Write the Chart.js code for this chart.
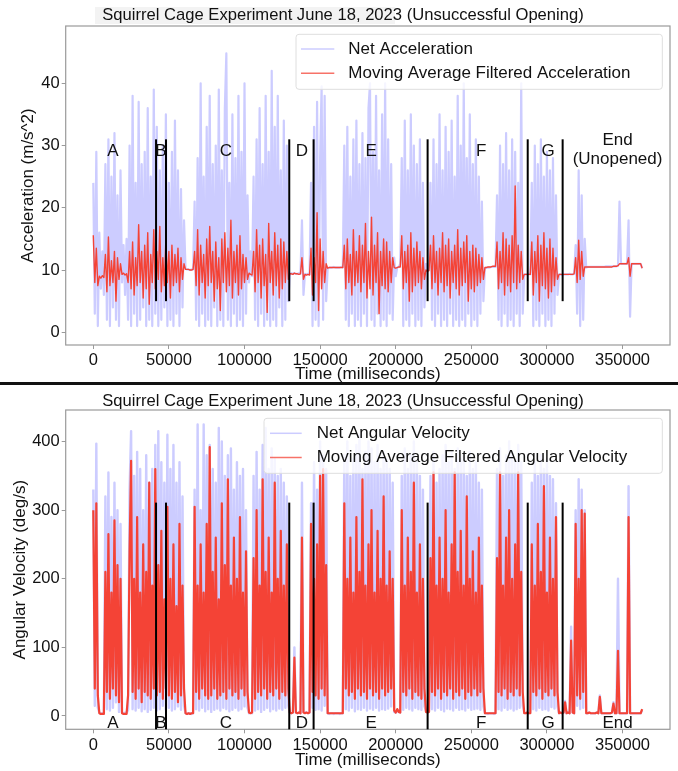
<!DOCTYPE html>
<html>
<head>
<meta charset="utf-8">
<title>Squirrel Cage Experiment June 18, 2023</title>
<script src="https://cdn.jsdelivr.net/npm/chart.js@4.4.0/dist/chart.umd.min.js"></script>
<style>
  html, body { margin: 0; padding: 0; background: #fff; }
  #wrap { position: relative; width: 678px; height: 771px; overflow: hidden; }
  canvas { position: absolute; left: 0; }
  #accChart { top: 0; }
  #gyroChart { top: 385px; }
  .rule { position: absolute; left: 0; top: 382px; width: 678px; height: 3px; background: #111; }
</style>
</head>
<body>
<div id="wrap">
  <canvas id="accChart" width="678" height="383" style="width:678px;height:383px"></canvas>
  <div class="rule"></div>
  <canvas id="gyroChart" width="678" height="386" style="width:678px;height:386px"></canvas>
</div>
<script>
// one sample per second of the recording
const SAMPLE_MS = 1000;

const timeTicks = [0, 50000, 100000, 150000, 200000, 250000, 300000, 350000];
const accTicks = [0, 10, 20, 30, 40];
const gyroTicks = [0, 100, 200, 300, 400];

// where the experiment phases change, and the phase names
const dividerTimes = [41500, 48100, 129600, 145700, 221100, 287300, 310400];
const segmentNames = ['A', 'B', 'C', 'D', 'E', 'F', 'G', 'End'];
const segmentTimes = [13000, 44800, 87700, 138000, 183700, 256500, 300800, 346700];

// net acceleration (m/s^2)
const accNet = [
  24, 3, 29, 1, 16, 7, 13, 6, 27, 2, 31, 1, 25, 4, 32, 2, 22, 1, 26, 8,
  14, 6, 15, 2, 30, 1, 38, 3, 24, 1, 37, 2, 27, 4, 29, 1, 36, 2, 25, 1,
  39, 3, 33, 1, 26, 2, 30, 4, 35, 1, 24, 2, 29, 1, 34, 3, 26, 1, 23, 4, 18,
  10.2, 10.1, 10.1, 10.0, 10.1, 10.1,
  21, 2, 28, 1, 40, 3, 25, 1, 33, 2, 38, 1, 27, 4, 30, 1, 39, 2, 26, 1,
  36, 44.8, 2, 24, 1, 35, 3, 28, 1, 38, 2, 29, 1, 40, 3, 22,
  8, 13, 9,
  25, 2, 31, 1, 36, 3, 27, 1, 38, 2, 29, 1, 42, 2, 33, 1, 38, 4, 26, 1, 34, 2, 30, 5,
  9.4, 9.5, 9.4, 9.5, 9.4, 9.4, 9.5, 9.4, 18, 6, 9.4, 9.3, 9.4, 9.3,
  24, 1, 33, 2, 37, 1, 28, 39.5, 2, 38, 5,
  10.3, 10.4, 10.4, 10.4, 10.5, 10.4, 10.4, 10.4, 10.4, 10.5, 10.4,
  30, 2, 33, 1, 25, 3, 31, 1, 34, 2, 27, 1, 32, 3, 28, 1, 36, 40, 2, 29,
  1, 38, 3, 26, 1, 35, 2, 40, 1, 31, 3, 27, 2,
  12, 9, 10.4, 10.5, 11,
  28, 1, 34, 2, 26, 1, 35, 3, 30, 1, 27, 2, 31, 1, 24, 4,
  11, 10, 10.2,
  24, 2, 31, 1, 27, 3, 35, 1, 26, 2, 33, 1, 29, 3, 34, 1, 25, 2, 38, 1,
  30, 2, 40, 1, 28, 3, 35, 1, 27, 2, 31, 1, 25, 3, 21, 5,
  10.3, 10.4, 10.4, 10.4, 10.5, 10.5, 10.5, 10.5,
  22, 2, 30, 1, 27, 3, 32, 1, 26, 2, 31, 1, 29, 3, 24, 1, 40, 3,
  9.3, 9.3, 9.3, 9.4, 9.3,
  24, 1, 30, 2, 27, 1, 31, 3, 25, 1, 29, 2, 26, 1, 28, 3, 22, 6,
  9.3, 9.3, 9.2, 9.3, 9.3, 9.3, 9.3, 9.4, 9.3, 9.3, 9.4,
  14, 3, 26, 1, 22, 2, 15,
  10.4, 10.5, 10.5, 10.5, 10.5, 10.5, 10.5, 10.5, 10.5, 10.5,
  10.5, 10.5, 10.5, 10.6, 10.6, 10.6, 10.6, 10.6, 10.6, 10.6,
  10.6, 10.7, 21, 11, 11, 11, 11, 11, 18, 2.5, 11, 11, 11, 11, 11, 11, 11, 10.3
];

// moving average of the acceleration
const accAvg = [
  15.6, 8, 13.5, 7.5, 9, 8.7, 9.1, 8.8, 12.5, 6.5, 15.3, 7.5, 11.5, 8, 13, 5, 12, 8.5, 11, 9.3,
  9.5, 9.2, 9.4, 8, 13, 7, 14.5, 6, 12, 7.5, 17.3, 8, 13, 5.5, 14, 7, 16, 4.5, 12.5, 8,
  16.5, 7, 13, 8.5, 17, 6.5, 12, 7.5, 15, 8, 13, 5.5, 14, 7.5, 12.5, 8, 13.5, 6.5, 12, 8.5, 11,
  10.1, 10.1, 10.1, 10.0, 10.0, 10.1,
  13, 7.5, 16.5, 6, 14, 8, 12.5, 5.5, 15, 7.5, 17, 8, 13, 5, 14.5, 7, 12, 3.5, 15, 8,
  16, 6.5, 13.5, 7.5, 18, 5.5, 13, 8, 14, 6, 15.5, 7, 12.5, 8, 12, 8.5,
  9.5, 9.3, 9.2,
  13, 6.5, 16.5, 8, 14, 5.5, 15, 7.5, 12.5, 3.2, 17.5, 8, 13, 6, 16, 7.5, 14, 5.5, 15, 7, 14.5, 8, 13, 8.5,
  9.4, 9.4, 9.3, 9.5, 9.4, 9.4, 9.3, 9.4, 12, 8.5, 9.3, 9.2, 9.3, 9.2,
  13.5, 6, 12, 8, 19.2, 3.5, 15, 7, 13, 8, 11,
  10.3, 10.4, 10.4, 10.4, 10.4, 10.4, 10.4, 10.4, 10.4, 10.4, 10.4,
  14, 7, 15, 8, 12.5, 6, 16.5, 7.5, 13, 8, 15.5, 6.5, 14, 8, 17.5, 5.5, 13, 7, 18.5, 6,
  14, 8, 16, 3, 13, 7.5, 15, 7, 14.5, 6.5, 13, 8, 12,
  10.4, 10.3, 10.4, 10.5, 10.5,
  15.5, 7, 13, 8, 14, 5, 16, 6.5, 13.5, 7.5, 14.5, 8, 13, 7, 12, 8.5,
  10, 9.8, 9.9,
  14, 7, 15.5, 8, 13, 6, 13.5, 8, 16, 6.5, 14, 7.5, 15, 5.5, 13, 8, 14, 7, 16.5, 6,
  13.5, 7.5, 14.5, 8, 15.5, 5, 13, 7, 14, 6.5, 13.5, 7.5, 12.5, 8, 12, 8.5,
  10.4, 10.4, 10.5, 10.5, 10.5, 10.6, 10.6, 10.6,
  14.5, 7, 13, 8, 16, 6, 15, 7.5, 14, 6.5, 15.5, 8, 23.5, 7, 14, 8, 13, 8.5,
  9.3, 9.3, 9.3, 9.3, 9.3,
  14.5, 6, 13, 8, 15.5, 5, 14, 7.5, 16, 7, 13.5, 5.5, 15, 6.5, 13.5, 7.5, 12, 8.5,
  9.3, 9.3, 9.3, 9.3, 9.3, 9.3, 9.3, 9.3, 9.3, 9.3, 9.4,
  12, 8, 14.8, 8.5, 13, 9, 10.5,
  10.5, 10.5, 10.5, 10.5, 10.5, 10.5, 10.5, 10.5, 10.5, 10.5,
  10.5, 10.5, 10.5, 10.5, 10.5, 10.5, 10.5, 10.5, 10.6, 10.6,
  10.6, 10.7, 11, 11, 11, 11, 11, 11, 12, 9, 11, 11, 11, 11, 11, 11, 11, 10.3
];

// net angular velocity (deg/s)
const gyroNet = [
  330, 15, 397, 12, 5, 3, 4, 4, 320, 10, 355, 8, 290, 12, 340, 20, 300, 6, 280, 5,
  4, 5, 4, 9, 330, 415, 10, 350, 8, 385, 12, 360, 7, 300, 10, 380, 6, 340, 9, 360,
  12, 395, 8, 415, 10, 370, 15, 340, 9, 410, 12, 360, 8, 395, 10, 340, 14, 370, 9, 320, 15,
  4, 3, 4, 4, 3, 4,
  330, 10, 425, 8, 300, 12, 425, 7, 380, 10, 395, 6, 360, 9, 340, 11, 420, 8, 400, 12,
  350, 10, 380, 7, 390, 9, 330, 12, 370, 8, 350, 10, 360, 14, 300, 12,
  4, 5, 4,
  350, 8, 385, 10, 330, 6, 395, 9, 420, 12, 360, 7, 390, 10, 375, 8, 350, 11, 360, 9, 340, 12, 320, 15,
  5, 4, 5, 100, 5, 4, 5, 4, 340, 6, 5, 5, 4, 5,
  310, 12, 370, 9, 330, 10, 400, 8, 380, 15, 360,
  4, 3, 4, 4, 3, 4, 4, 4, 3, 4, 4,
  380, 10, 400, 8, 350, 12, 375, 7, 395, 10, 410, 9, 360, 12, 385, 8, 400, 11, 390, 9,
  370, 12, 395, 8, 360, 10, 385, 9, 375, 11, 360, 14, 340,
  6, 5, 8, 6, 5,
  350, 9, 390, 12, 360, 10, 380, 8, 400, 12, 370, 10, 350, 9, 330, 14,
  8, 6, 7,
  350, 10, 385, 8, 340, 12, 360, 9, 380, 7, 395, 11, 370, 10, 385, 8, 360, 12, 390, 9,
  375, 10, 380, 8, 350, 12, 385, 9, 360, 10, 370, 11, 340, 9, 330, 14,
  4, 4, 3, 4, 4, 4, 3, 4,
  360, 10, 390, 8, 350, 12, 380, 9, 400, 11, 385, 8, 370, 10, 395, 12, 370, 15,
  5, 4, 5, 4, 5,
  340, 10, 370, 8, 350, 12, 380, 9, 360, 10, 375, 8, 350, 13, 345, 11, 310, 14,
  4, 5, 4, 5, 22, 4, 5, 4, 130, 5, 4,
  300, 15, 345, 10, 330, 12, 300,
  4, 4, 5, 4, 4, 4, 4, 5, 4, 30,
  4, 4, 4, 4, 4, 4, 4, 5, 20, 4,
  4, 200, 4, 4, 4, 4, 4, 4, 335, 4, 4, 4, 4, 4, 4, 4, 4, 8
];

// moving average of the angular velocity
const gyroAvg = [
  300, 40, 310, 30, 4, 3, 3, 3, 210, 35, 265, 25, 180, 40, 285, 30, 220, 20, 200, 4,
  3, 3, 3, 30, 240, 372, 35, 200, 25, 290, 40, 180, 20, 250, 35, 210, 30, 340, 25, 190,
  40, 360, 30, 220, 35, 270, 25, 170, 40, 305, 30, 200, 25, 250, 35, 160, 20, 280, 30, 190, 40,
  4, 3, 4, 3, 4, 4,
  305, 35, 190, 25, 250, 40, 180, 30, 280, 25, 392, 30, 210, 40, 260, 25, 170, 30, 310, 35,
  220, 25, 345, 40, 190, 30, 260, 35, 200, 25, 290, 40, 180, 30, 240, 35,
  5, 4, 5,
  230, 25, 300, 35, 190, 30, 345, 40, 210, 25, 260, 35, 180, 30, 340, 40, 200, 25, 270, 35, 190, 30, 250, 40,
  5, 4, 5, 85, 5, 4, 5, 4, 260, 5, 4, 5, 4, 5,
  280, 35, 200, 30, 250, 25, 350, 40, 360, 30, 220,
  4, 4, 4, 4, 4, 4, 4, 4, 4, 4, 4,
  310, 40, 200, 30, 260, 35, 180, 25, 290, 40, 210, 30, 345, 35, 190, 25, 250, 40, 300, 30,
  180, 35, 270, 25, 200, 40, 320, 30, 190, 35, 240, 40, 200,
  8, 5, 10, 6, 5,
  300, 35, 190, 30, 260, 40, 210, 25, 340, 35, 180, 30, 250, 25, 200, 40,
  6, 5, 6,
  230, 35, 355, 30, 190, 40, 260, 25, 200, 35, 300, 30, 180, 40, 250, 25, 355, 35, 210, 30,
  270, 40, 190, 25, 320, 35, 200, 30, 240, 40, 180, 30, 260, 35, 190, 40,
  4, 4, 4, 4, 4, 4, 4, 4,
  230, 35, 355, 30, 190, 40, 260, 25, 300, 35, 200, 30, 250, 40, 355, 30, 210, 35,
  4, 4, 5, 4, 4,
  250, 35, 190, 30, 280, 40, 210, 25, 335, 35, 180, 30, 260, 40, 200, 30, 290, 35,
  4, 5, 4, 5, 20, 4, 5, 4, 110, 5, 4,
  280, 30, 200, 25, 300, 35, 295,
  4, 4, 5, 4, 4, 4, 4, 5, 4, 28,
  4, 4, 4, 4, 4, 4, 4, 5, 18, 4,
  4, 95, 4, 4, 4, 4, 4, 4, 290, 4, 4, 4, 4, 4, 4, 4, 4, 10
];

const NET_COLOR = '#ccccff';
const AVG_COLOR = '#f44336';
const FRAME_COLOR = '#9a9a9a';
const FONT = '"Liberation Sans", Arial, Helvetica, sans-serif';
const TITLE = 'Squirrel Cage Experiment June 18, 2023 (Unsuccessful Opening)';

const toPoints = vals => vals.map((v, i) => ({ x: i * SAMPLE_MS, y: v }));

// titles, phase markers and the legend box are painted over the plot
const overlay = {
  id: 'overlay',
  beforeDraw(chart, args, o) {
    if (!o.shade) return;
    const ctx = chart.ctx;
    ctx.save();
    ctx.fillStyle = '#f3f3f3';
    ctx.fillRect(o.shade[0], o.shade[1], o.shade[2], o.shade[3]);
    ctx.restore();
  },
  afterDatasetsDraw(chart, args, o) {
    const { ctx, chartArea: area, scales: { x, y } } = chart;
    ctx.save();

    ctx.strokeStyle = FRAME_COLOR;
    ctx.lineWidth = 1.2;
    ctx.strokeRect(area.left, area.top, area.right - area.left, area.bottom - area.top);

    // phase dividers
    ctx.strokeStyle = '#000';
    ctx.lineWidth = 2;
    const yTop = y.getPixelForValue(o.dividerTo);
    const yBot = y.getPixelForValue(o.dividerFrom);
    for (const t of dividerTimes) {
      const px = x.getPixelForValue(t);
      ctx.beginPath();
      ctx.moveTo(px, yTop);
      ctx.lineTo(px, yBot);
      ctx.stroke();
    }

    // phase names
    ctx.fillStyle = '#111';
    ctx.font = `17px ${FONT}`;
    ctx.textAlign = 'center';
    ctx.textBaseline = 'middle';
    segmentNames.forEach((name, i) => {
      const px = x.getPixelForValue(segmentTimes[i]);
      if (name === 'End' && o.endNote) {
        ctx.fillText(name, px, y.getPixelForValue(o.endY));
        ctx.fillText(o.endNote, px, y.getPixelForValue(o.endNoteY));
      } else {
        ctx.fillText(name, px, y.getPixelForValue(o.letterY));
      }
    });

    // legend
    const lg = o.legend;
    ctx.beginPath();
    ctx.roundRect(lg.x, lg.y, lg.w, lg.h, 3);
    ctx.fillStyle = 'rgba(255,255,255,0.8)';
    ctx.fill();
    ctx.strokeStyle = '#dedede';
    ctx.lineWidth = 1;
    ctx.stroke();
    ctx.textAlign = 'left';
    chart.data.datasets.forEach((ds, i) => {
      const ry = lg.rowY[i];
      ctx.strokeStyle = i === 0 ? NET_COLOR : 'rgba(244,67,54,0.75)';
      ctx.lineWidth = 1.5;
      ctx.beginPath();
      ctx.moveTo(lg.lineX[0], ry);
      ctx.lineTo(lg.lineX[1], ry);
      ctx.stroke();
      ctx.fillStyle = '#111';
      ctx.font = `17px ${FONT}`;
      ctx.fillText(ds.label, lg.textX, ry);
    });

    // chart title and axis titles
    ctx.fillStyle = '#111';
    ctx.textAlign = 'center';
    ctx.font = `16.6px ${FONT}`;
    ctx.fillText(TITLE, 343, o.titleY);
    ctx.font = `17px ${FONT}`;
    ctx.fillText('Time (milliseconds)', (area.left + area.right) / 2, o.xTitleY);
    ctx.translate(o.yTitleX, (area.top + area.bottom) / 2);
    ctx.rotate(-Math.PI / 2);
    ctx.fillText(o.yTitle, 0, 0);

    ctx.restore();
  }
};

function axisStyle() {
  return {
    grid: { drawOnChartArea: false, drawTicks: true, tickLength: 4, color: FRAME_COLOR, lineWidth: 1 },
    border: { display: false },
    ticks: { color: '#111', font: { family: FONT, size: 16.5 }, padding: 2, autoSkip: false, maxRotation: 0, callback: v => String(v) }
  };
}

function makeChart(id, cfg) {
  return new Chart(document.getElementById(id), {
    type: 'line',
    data: {
      datasets: [
        { label: cfg.netLabel, data: toPoints(cfg.net), borderColor: NET_COLOR, borderWidth: cfg.netWidth, order: 2 },
        { label: cfg.avgLabel, data: toPoints(cfg.avg), borderColor: AVG_COLOR, borderWidth: cfg.avgWidth, order: 1 }
      ]
    },
    options: {
      responsive: false,
      animation: false,
      parsing: false,
      normalized: true,
      elements: {
        point: { radius: 0 },
        line: { tension: 0, borderJoinStyle: 'round', fill: false }
      },
      layout: { padding: { top: cfg.padTop, right: 8, left: 0, bottom: 0 } },
      scales: {
        x: Object.assign(axisStyle(), {
          type: 'linear', min: -18250, max: 381400,
          afterBuildTicks: s => { s.ticks = timeTicks.map(v => ({ value: v })); },
          afterFit: s => { s.height = cfg.xAxisHeight; }
        }),
        y: Object.assign(axisStyle(), {
          type: 'linear', min: cfg.yMin, max: cfg.yMax,
          afterBuildTicks: s => { s.ticks = cfg.yTicks.map(v => ({ value: v })); },
          afterFit: s => { s.width = 65.7; }
        })
      },
      plugins: {
        legend: { display: false },
        title: { display: false },
        tooltip: { enabled: false },
        overlay: cfg.overlay
      }
    },
    plugins: [overlay]
  });
}

makeChart('accChart', {
  net: accNet, avg: accAvg,
  netLabel: 'Net Acceleration', avgLabel: 'Moving Average Filtered Acceleration',
  netWidth: 2.2, avgWidth: 1.4,
  yMin: -2.04, yMax: 49.2, yTicks: accTicks,
  padTop: 26, xAxisHeight: 38,
  overlay: {
    shade: [95, 7, 300, 17],
    titleY: 15.5, xTitleY: 374.5, yTitleX: 28.5, yTitle: 'Acceleration (m/s^2)',
    dividerFrom: 5, dividerTo: 31,
    letterY: 29, endY: 30.8, endNote: '(Unopened)', endNoteY: 27.8,
    legend: { x: 296, y: 34.3, w: 366.3, h: 55, rowY: [49, 73.3], lineX: [301, 334.3], textX: 348.3 }
  }
});

makeChart('gyroChart', {
  net: gyroNet, avg: gyroAvg,
  netLabel: 'Net Angular Velocity', avgLabel: 'Moving Average Filtered Angular Velocity',
  netWidth: 2.4, avgWidth: 2.2,
  yMin: -19.4, yMax: 446, yTicks: gyroTicks,
  padTop: 25, xAxisHeight: 41.7,
  overlay: {
    titleY: 16.7, xTitleY: 375, yTitleX: 20, yTitle: 'Angular Velocity (deg/s)',
    dividerFrom: -19.4, dividerTo: 311,
    letterY: -10,
    legend: { x: 264, y: 33.3, w: 398.3, h: 55, rowY: [48.3, 72.5], lineX: [270, 301.7], textX: 316.7 }
  }
});
</script>
</body>
</html>
